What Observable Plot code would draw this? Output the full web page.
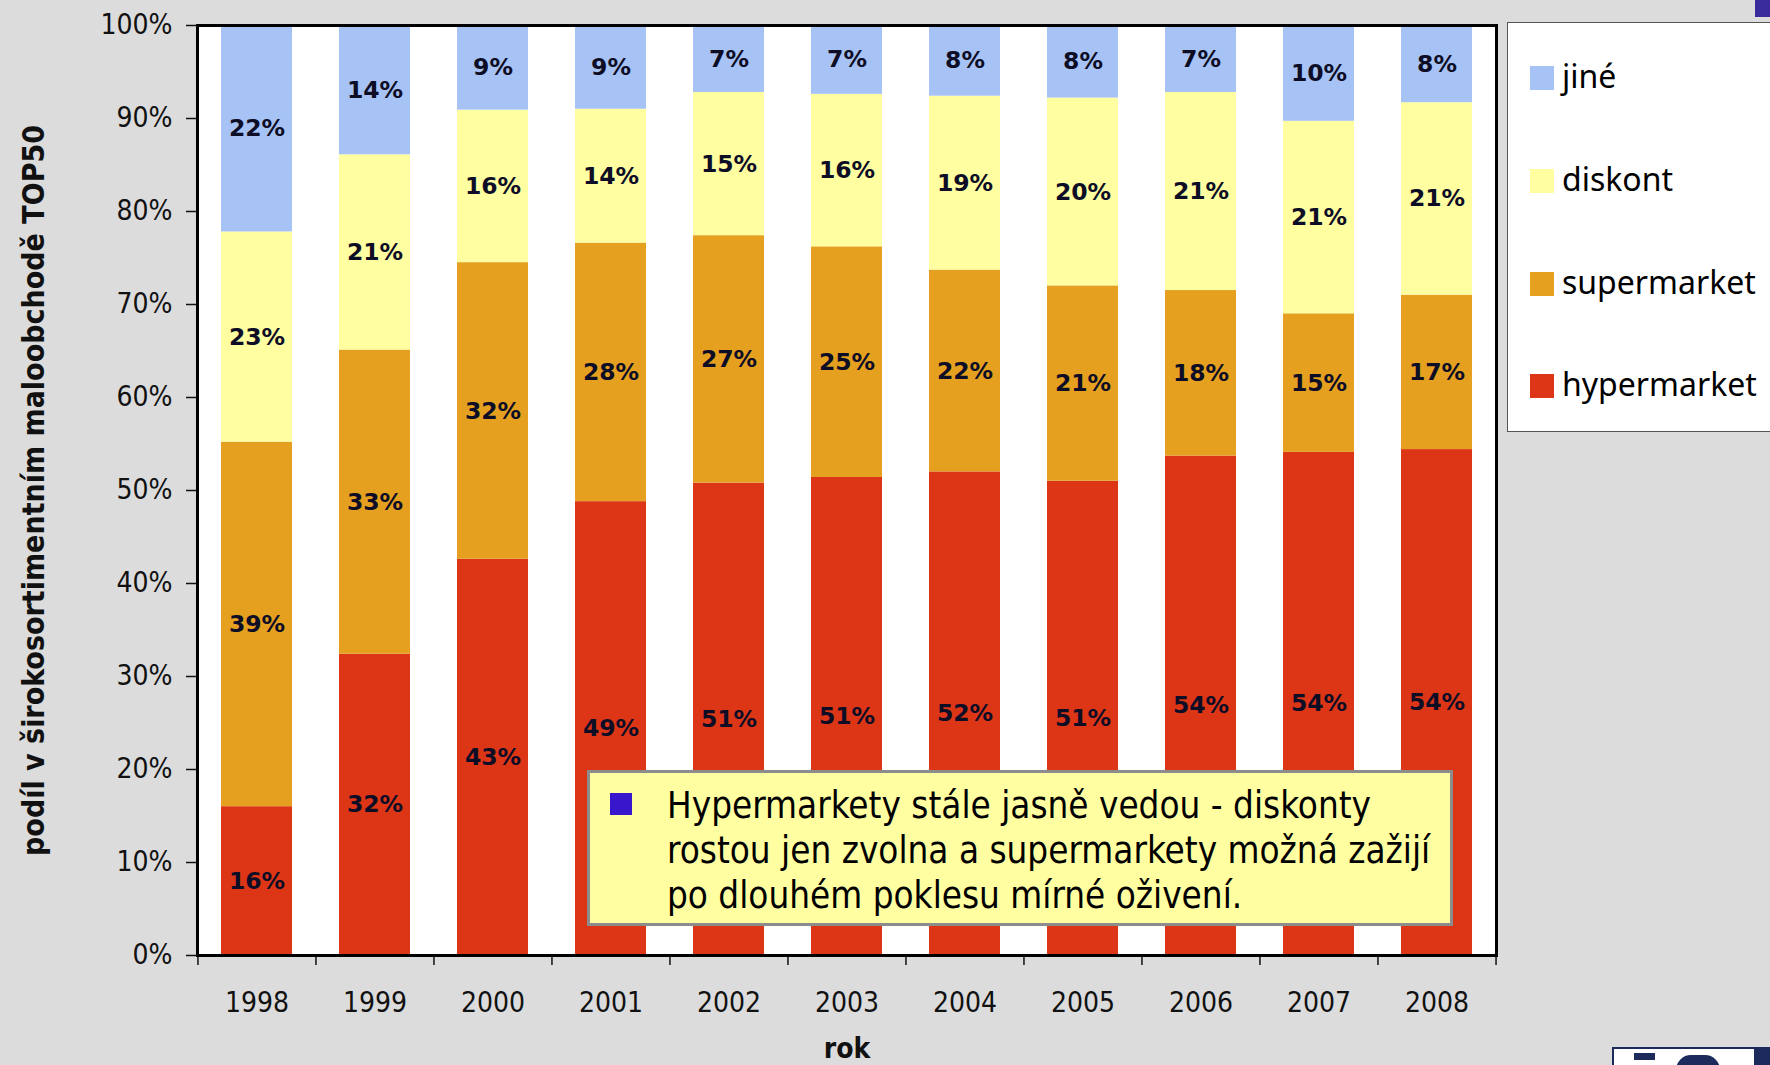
<!DOCTYPE html>
<html>
<head>
<meta charset="utf-8">
<script src="https://cdn.jsdelivr.net/npm/d3@7"></script>
<script src="https://cdn.jsdelivr.net/npm/@observablehq/plot@0.6"></script>
<style>
  html, body { margin: 0; padding: 0; background: #dcdcdc; }
  #wrap { position: relative; width: 1770px; height: 1065px; overflow: hidden; background: #dcdcdc; }
  #legend { position: absolute; left: 1507px; top: 22px; width: 280px; height: 410px; background: #fff; border: 1.5px solid #555; box-sizing: border-box; font-family: "Noto Sans", sans-serif; font-size: 32px; color: #000; }
  .li { position: absolute; left: 22px; height: 24px; display: flex; align-items: center; }
  .sw { width: 24px; height: 24px; margin-right: 8px; flex: none; }
  .lt { line-height: 24px; position: relative; top: -2px; }
  #note { position: absolute; left: 587px; top: 770px; width: 866px; height: 156px; background: #ffffa2; border: 3px solid #8c8c8c; box-sizing: border-box; font-family: "DejaVu Sans Condensed", sans-serif; font-size: 36.5px; color: #000; }
  #bullet { position: absolute; left: 20px; top: 20px; width: 22px; height: 22px; background: #3716cc; }
  #notetext { position: absolute; left: 77px; top: 10px; line-height: 45px; white-space: nowrap; }
  #corner { position: absolute; left: 1755px; top: 0; width: 15px; height: 17px; background: #3b2c9e; }
  #logo { position: absolute; left: 1612px; top: 1047px; width: 170px; height: 30px; background: #fff; border: 2px solid #1c2a5c; box-sizing: border-box; }
  #logo .a { position: absolute; left: 20px; top: 4px; width: 21px; height: 7px; background: #1c2a5c; }
  #logo .b { position: absolute; left: 62px; top: 6px; width: 44px; height: 30px; border-radius: 22px; background: #1c2a5c; }
  #logo .c { position: absolute; left: 140px; top: 0; width: 30px; height: 30px; background: #1c2a5c; }
</style>
</head>
<body>
<div id="wrap">
  <div id="chart"></div>
  <div id="legend"></div>
  <div id="note"><div id="bullet"></div><div id="notetext"></div></div>
  <div id="corner"></div>
  <div id="logo"><div class="a"></div><div class="b"></div><div class="c"></div></div>
</div>
<script>
// ---- data (percent shares) ----
const years = [1998, 1999, 2000, 2001, 2002, 2003, 2004, 2005, 2006, 2007, 2008];
const categories = ["hypermarket", "supermarket", "diskont", "jiné"];
const hypermarket = [16.0, 32.4, 42.6, 48.8, 50.8, 51.4, 52.0, 51.0, 53.7, 54.1, 54.4];
const supermarket = [39.2, 32.7, 31.9, 27.8, 26.6, 24.8, 21.7, 21.0, 17.8, 14.9, 16.6];
const diskont     = [22.6, 21.0, 16.4, 14.4, 15.4, 16.4, 18.7, 20.2, 21.3, 20.7, 20.7];
const jine        = [22.2, 13.9,  9.1,  9.0,  7.2,  7.4,  7.6,  7.8,  7.2, 10.3,  8.3];
const colors = ["#dd3616", "#e4a01e", "#ffffa2", "#a7c3f5"];
const yTicks = [0, 10, 20, 30, 40, 50, 60, 70, 80, 90, 100];
const legendOrder = ["jiné", "diskont", "supermarket", "hypermarket"];
const yLabel = "podíl v širokosortimentním maloobchodě TOP50";
const xLabel = "rok";
const noteLines = [
  "Hypermarkety stále jasně vedou - diskonty",
  "rostou jen zvolna a supermarkety možná zažijí",
  "po dlouhém poklesu mírné oživení."
];

// ---- build stacked table ----
const series = {hypermarket, supermarket, diskont, "jiné": jine};
const rows = [];
years.forEach((year, i) => {
  let acc = 0;
  for (const cat of categories) {
    const v = series[cat][i];
    rows.push({year, cat, value: v, y1: acc, y2: acc + v});
    acc += v;
  }
});

const W = 1770, H = 1065;
const mL = 197, mR = 274, mT = 25, mB = 110;
const step = (W - mL - mR) / years.length;

const chart = Plot.plot({
  width: W,
  height: H,
  marginLeft: mL,
  marginRight: mR,
  marginTop: mT,
  marginBottom: mB,
  style: {background: "#dcdcdc", fontFamily: "'DejaVu Sans Condensed', sans-serif", color: "#111"},
  x: {type: "band", domain: years, paddingInner: 0.4, paddingOuter: 0.2, axis: null, label: null},
  y: {domain: [0, 100], axis: null, label: null},
  color: {domain: categories, range: colors},
  marks: [
    Plot.frame({fill: "white"}),
    Plot.barY(rows, {x: "year", y1: "y1", y2: "y2", fill: "cat"}),
    Plot.text(rows, {
      x: "year", y: d => (d.y1 + d.y2) / 2,
      text: d => Math.round(d.value) + "%",
      fontFamily: "'DejaVu Sans', sans-serif", fontWeight: "bold", fontSize: 23.5, fill: "#0d0d26"
    }),
    Plot.axisY({ticks: yTicks, label: null, tickSize: 11, tickPadding: 14, tickFormat: d => d + "%", fontSize: 28, stroke: "#111", strokeWidth: 1.5, fill: "#111"}),
    Plot.axisX({ticks: years, label: null, tickSize: 0, tickPadding: 37, tickFormat: d => String(d), fontSize: 28, fill: "#111"}),
    Plot.axisX({ticks: years, label: null, tickSize: 10, text: null, dx: -step / 2, stroke: "#111", strokeWidth: 1.5}),
    Plot.axisX({ticks: years.slice(-1), label: null, tickSize: 10, text: null, dx: step / 2, stroke: "#111", strokeWidth: 1.5}),
    Plot.frame({stroke: "black", strokeWidth: 3}),
    Plot.text([yLabel], {frameAnchor: "left", dx: -163, rotate: -90, textAnchor: "middle", lineAnchor: "middle", fontWeight: "bold", fontSize: 30, fill: "#111"}),
    Plot.text([xLabel], {frameAnchor: "bottom", dy: 94, textAnchor: "middle", lineAnchor: "middle", fontWeight: "bold", fontSize: 28, fill: "#111"})
  ]
});
document.getElementById("chart").appendChild(chart);

// ---- legend ----
const legend = document.getElementById("legend");
const legendTops = [43, 146, 249, 351];
legendOrder.forEach((cat, i) => {
  const item = document.createElement("div");
  item.className = "li";
  item.style.top = legendTops[i] + "px";
  const sw = document.createElement("div");
  sw.className = "sw";
  sw.style.background = colors[categories.indexOf(cat)];
  const t = document.createElement("span");
  t.className = "lt";
  t.textContent = cat;
  item.appendChild(sw);
  item.appendChild(t);
  legend.appendChild(item);
});

// ---- annotation ----
document.getElementById("notetext").innerHTML = noteLines.map(s => s.replace(/&/g, "&amp;")).join("<br>");
</script>
</body>
</html>
